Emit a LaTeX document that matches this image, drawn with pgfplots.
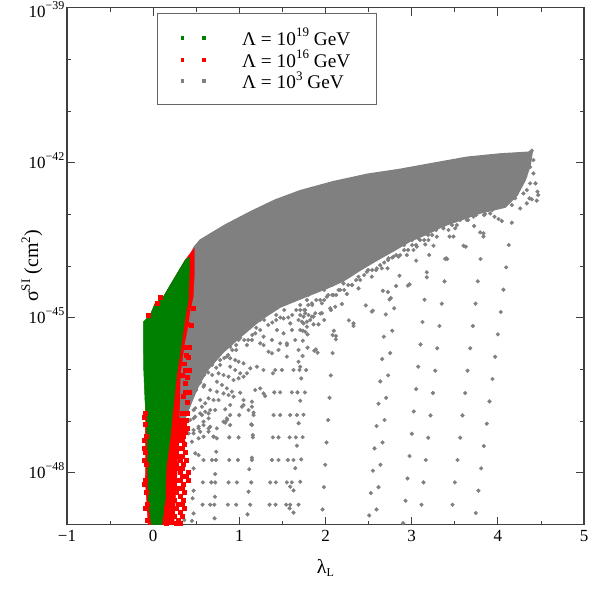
\documentclass[border=0pt]{standalone}
\usepackage{fontspec}
\setmainfont{Liberation Serif}
\usepackage{pgfplots}
\pgfplotsset{compat=1.18}
\definecolor{dgreen}{HTML}{008000}
\definecolor{dgray}{HTML}{808080}
\definecolor{dred}{HTML}{FF0000}
\newcommand{\exl}[1]{\raisebox{7.5pt}[0pt][0pt]{\fontsize{12}{12}\selectfont #1}}
\newcommand{\exb}[1]{\raisebox{8.5pt}[0pt][0pt]{\fontsize{13}{13}\selectfont #1}}
\newcommand{\legtxt}[1]{\makebox[134pt][l]{\rule[-4.9pt]{0pt}{22.6pt}\fontsize{19.3}{19}\selectfont #1}}
\begin{document}
\begin{tikzpicture}
\path[use as bounding box] (0,0) rectangle (592pt,592pt);
\begin{axis}[
  at={(67pt,67.5pt)}, anchor=south west,
  scale only axis, width=517pt, height=517pt,
  xmin=-1, xmax=5, ymode=log, ymin=1e-49, ymax=1e-39,
  xtick={-1,0,1,2,3,4,5},
  xticklabels={−1,0,1,2,3,4,5},
  minor xtick={-0.5,0.5,1.5,2.5,3.5,4.5},
  ytick={1e-48,1e-45,1e-42,1e-39},
  yticklabels={10\exl{−48},10\exl{−45},10\exl{−42},\raisebox{-4pt}[11.6pt][0pt]{10\exl{−39}}},
  minor ytick={1e-47,1e-46,1e-44,1e-43,1e-41,1e-40},
  tick align=inside, tick pos=both,
  major tick length=8pt, minor tick length=4pt,
  tick style={line width=0.8pt,color=black!75},
  axis line style={line width=1.1pt,color=black!75},
  tick label style={font=\fontsize{17}{17}\selectfont},
  xticklabel style={yshift=-2pt},
  yticklabel style={xshift=1pt},
  every axis x label/.style={at={(axis description cs:0.5,-0.084)},anchor=center},
  every axis y label/.style={at={(axis description cs:-0.068,0.5)},anchor=center,rotate=90},
  label style={font=\fontsize{20}{20}\selectfont},
  xlabel={λ\raisebox{-3pt}{\fontsize{12}{12}\selectfont L}},
  ylabel={σ\raisebox{8pt}{\fontsize{13}{13}\selectfont SI} (cm\raisebox{8pt}{\fontsize{13}{13}\selectfont 2})},
  legend cell align=left,
  legend style={at={(axis description cs:0.175,0.989)},anchor=north west,
    draw=black!60,line width=0.8pt,fill=white,inner xsep=0pt,inner ysep=14pt,
    nodes={inner sep=0pt},row sep=2.6pt,
    /tikz/every even column/.append style={column sep=0pt}},
]
\addlegendimage{legend image code/.code={
  \fill[dgreen] (23pt,-2pt) rectangle (25pt,1pt);
  \fill[dgreen] (44pt,-2pt) rectangle (47.5pt,1pt);
  \path (0pt,0pt) (83.5pt,0pt);}}
\addlegendentry{\legtxt{Λ = 10\exb{19} GeV}}
\addlegendimage{legend image code/.code={
  \fill[dred] (23pt,-2pt) rectangle (25pt,1pt);
  \fill[dred] (44pt,-2pt) rectangle (47.5pt,1pt);
  \path (0pt,0pt) (83.5pt,0pt);}}
\addlegendentry{\legtxt{Λ = 10\exb{16} GeV}}
\addlegendimage{legend image code/.code={
  \fill[dgray] (23pt,-2pt) rectangle (25pt,1pt);
  \fill[dgray] (44pt,-2pt) rectangle (47.5pt,1pt);
  \path (0pt,0pt) (83.5pt,0pt);}}
\addlegendentry{\legtxt{Λ = 10\exb{3} GeV}}

% Lambda = 10^3: dense part as outline
\addplot[forget plot,fill=dgray,draw=dgray,line width=1.5pt,line join=round] coordinates {
 (0.198,2.5e-45) (0.477,2.33e-44) (0.546,3.18e-44) (0.836,6.21e-44) (1.126,1.11e-43)
 (1.416,1.89e-43) (1.706,2.86e-43) (2.089,4.27e-43) (2.484,5.94e-43) (2.867,7.41e-43)
 (3.249,9.68e-43) (3.644,1.27e-42) (4.027,1.47e-42) (4.398,1.60e-42)
 (4.375,9.0e-43) (4.317,4.61e-43) (4.224,2.36e-43) (4.085,1.38e-43) (3.795,1.06e-43) (3.598,8.11e-44)
 (3.366,5.94e-44) (3.180,4.16e-44) (2.983,3.05e-44) (2.785,1.95e-44) (2.600,1.31e-44)
 (2.403,8.37e-45) (2.205,5.13e-45) (2.020,3.75e-45) (1.788,2.63e-45) (1.474,1.61e-45)
 (1.243,9.03e-46) (1.010,4.24e-46) (0.813,2.17e-46) (0.628,9.72e-47) (0.512,4.38e-47)
 (0.430,2.05e-47) (0.361,1.05e-47) (0.198,1.05e-47)} -- cycle;
% Lambda = 10^3: points
\addplot[forget plot,color=dgray,only marks,mark=*,mark size=1.9pt] coordinates {
 (4.162,6.90e-44)(4.127,2.55e-44)(4.096,9.44e-45)(4.065,3.49e-45)(4.034,1.29e-45)(4.000,4.76e-46)(3.969,1.76e-46)
 (3.938,6.52e-47)(3.903,2.41e-47)(3.872,8.91e-48)(3.837,3.30e-48)(3.806,1.22e-48)(3.775,4.52e-49)(3.744,1.67e-49)
 (3.833,3.71e-44)(3.799,1.37e-44)(3.768,5.06e-45)(3.741,1.87e-45)(3.710,6.92e-46)(3.679,2.56e-46)(3.648,9.46e-47)
 (3.621,3.50e-47)(3.590,1.29e-47)(3.563,4.78e-48)(3.532,1.77e-48)(3.501,6.53e-49)(3.474,2.41e-49)
 (3.485,3.71e-44)(3.440,3.71e-44)(3.412,1.37e-44)(3.381,5.06e-45)(3.350,1.87e-45)(3.323,6.92e-46)(3.296,2.56e-46)
 (3.273,9.46e-47)(3.246,3.50e-47)(3.219,1.29e-47)(3.192,4.78e-48)(3.164,1.77e-48)(3.137,6.53e-49)(3.114,2.41e-49)
 (3.203,1.64e-44)(3.176,6.05e-45)(3.149,2.23e-45)(3.126,8.26e-46)(3.103,3.05e-46)(3.075,1.13e-46)(3.052,4.17e-47)
 (3.025,1.54e-47)(3.002,5.70e-48)(2.975,2.11e-48)(2.952,7.79e-49)(2.929,2.88e-49)(2.901,1.06e-49)
 (2.820,4.11e-45)(2.797,1.52e-45)(2.774,5.61e-46)(2.751,2.07e-46)(2.727,7.66e-47)(2.704,2.83e-47)(2.685,1.05e-47)
 (2.662,3.87e-48)(2.638,1.43e-48)(2.615,5.29e-49)(2.592,1.96e-49)
 (2.724,3.14e-45)(2.700,1.16e-45)(2.677,4.30e-46)(2.658,1.59e-46)(2.635,5.87e-47)(2.615,2.17e-47)(2.592,8.03e-48)
 (2.569,2.97e-48)(2.550,1.10e-48)(2.526,4.06e-49)(2.507,1.50e-49)
 (2.097,5.61e-46)(2.082,2.07e-46)(2.062,7.66e-47)(2.047,2.83e-47)(2.031,1.05e-47)(2.012,3.87e-48)(1.997,1.43e-48)
 (1.981,5.29e-49)(1.966,1.96e-49)
 (1.792,2.63e-46)(1.776,9.72e-47)(1.761,3.59e-47)(1.745,1.33e-47)(1.734,4.91e-48)(1.718,1.82e-48)(1.707,6.71e-49)(1.687,2.42e-49)
 (1.734,1.82e-46)(1.718,6.71e-47)(1.707,2.48e-47)(1.688,9.1e-48)(1.668,3.35e-48)(1.649,1.23e-48)(1.629,4.57e-49)(1.629,1.70e-49)
 (0.894,1.31e-47)(0.999,1.31e-47)(1.165,1.31e-47)(1.397,1.31e-47)(1.474,1.31e-47)(1.590,1.31e-47)(1.668,1.31e-47)
 (0.883,4.85e-48)(0.991,4.85e-48)(1.157,4.85e-48)(1.389,4.85e-48)(1.455,4.85e-48)(1.583,4.85e-48)(1.656,4.85e-48)
 (0.585,1.77e-48)(0.682,1.77e-48)(0.728,1.77e-48)(0.883,1.77e-48)(0.983,1.77e-48)(1.146,1.77e-48)(1.378,1.77e-48)(1.455,1.77e-48)(1.563,1.77e-48)(1.629,1.77e-48)
 (0.577,6.53e-49)(0.674,6.53e-49)(0.720,6.53e-49)(0.875,6.53e-49)(0.972,6.53e-49)(1.138,6.53e-49)(1.358,6.53e-49)(1.424,6.53e-49)(1.552,6.53e-49)(1.610,6.53e-49)
 (0.573,2.42e-49)(0.662,2.42e-49)(0.709,2.42e-49)(0.867,2.42e-49)(0.964,2.42e-49)(1.126,2.42e-49)(1.351,2.42e-49)(1.420,2.42e-49)(1.544,2.42e-49)(1.590,2.42e-49)
 (1.590,5.39e-49)(1.583,2.06e-49)
 (0.469,1.22e-48)(0.720,9.48e-49)(1.115,1.17e-48)(0.469,4.51e-49)(0.457,3.21e-49)(0.717,3.45e-49)(1.107,4.32e-49)
 (0.469,1.64e-49)(0.361,1.22e-49)(0.450,1.18e-49)(0.713,1.32e-49)(1.095,1.57e-49)(0.732,2.56e-48)(1.146,1.96e-48)
 (1.138,8.65e-48)(1.157,5.38e-48)(1.165,1.46e-47)
 (0.450,4.00e-48)(0.372,3.72e-48)(0.488,2.38e-48)(0.527,2.21e-48)(0.411,5.79e-48)(0.469,6.73e-48)(0.527,7.24e-48)
 (0.585,8.39e-48)(0.643,6.24e-48)(0.662,7.80e-48)(0.527,4.65e-48)(0.430,1.05e-47)(0.488,1.22e-47)(0.566,1.31e-47)
 (0.643,1.41e-47)(0.720,1.64e-47)(0.836,1.69e-47)(0.894,2.05e-47)(0.817,9.75e-48)(0.894,8.39e-48)(0.856,1.05e-47)
 (0.392,2.05e-47)(0.469,1.64e-47)(0.566,1.90e-47)(0.739,4.65e-48)(0.701,5.00e-48)(0.585,5.00e-48)(1.049,2.05e-47)(1.146,1.90e-47)
 (1.242,3.20e-46)(1.339,2.20e-46)(1.378,2.05e-46)(1.455,2.38e-46)(1.552,2.96e-46)(1.687,2.38e-46)(1.687,1.41e-46)
 (1.707,1.13e-46)(1.552,1.77e-46)(1.494,9.75e-47)(1.417,9.75e-47)(1.390,8.40e-47)(1.281,9.75e-47)(1.204,1.13e-46)
 (1.127,1.05e-46)(1.049,1.31e-46)(0.991,1.41e-46)(0.952,1.52e-46)(0.894,1.64e-46)(0.856,1.77e-46)(0.894,1.13e-46)
 (0.952,9.75e-47)(1.010,8.40e-47)(1.088,8.40e-47)(1.049,7.24e-47)(0.991,6.73e-47)(0.933,6.24e-47)(0.875,7.24e-47)
 (0.817,7.80e-47)(0.759,8.40e-47)(0.740,5.79e-47)(0.798,5.00e-47)(0.856,4.30e-47)(0.914,3.72e-47)(1.010,3.55e-47)
 (0.933,2.97e-47)(0.875,3.20e-47)(0.817,3.44e-47)(0.740,3.72e-47)(0.662,4.00e-47)(0.585,4.63e-47)(0.546,2.56e-47)
 (0.604,2.21e-47)(0.643,2.76e-47)(0.701,2.56e-47)(0.759,2.56e-47)(1.049,2.56e-47)(1.146,2.38e-47)(1.185,4.00e-47)
 (1.242,4.30e-47)(1.281,3.44e-47)(1.300,3.05e-47)(1.107,1.64e-47)(1.030,1.90e-47)(0.856,1.13e-47)(0.837,9.33e-48)
 (0.662,1.64e-47)(0.604,1.52e-47)(0.546,1.41e-47)(0.488,1.77e-47)(0.469,1.13e-47)(0.643,1.13e-47)(0.585,9.75e-48)
 (0.527,7.81e-48)(0.469,5.81e-48)(0.546,6.25e-48)(0.643,7.24e-48)(0.740,7.24e-48)(0.701,5.00e-48)(1.146,8.41e-48)
 (1.405,3.6e-47)(1.474,3.6e-47)(1.610,3.6e-47)(1.675,3.6e-47)(1.629,9.75e-47)(1.699,9.75e-47)
 (2.271,8.89e-46)(2.325,7.78e-46)(2.325,6.92e-46)(2.082,4.62e-46)(2.120,4.43e-46)(2.120,3.82e-46)(1.888,2.44e-46)
 (1.908,2.11e-46)(1.869,2.30e-46)(1.737,3.60e-46)(1.737,5.61e-46)(1.765,5.37e-46)(1.792,4.76e-46)(1.861,7.45e-46)
 (1.919,7.45e-46)(1.985,9.03e-46)(1.958,1.22e-45)(2.062,1.41e-45)(1.823,9.03e-46)(1.745,7.78e-46)(2.538,1.31e-45)
 (1.784,8.38e-46)(1.842,1.05e-45)(1.881,1.22e-45)(1.726,8.38e-46)(1.803,1.13e-45)(1.745,1.05e-45)
 (1.707,1.13e-45)(1.765,1.41e-45)(1.861,1.05e-45)(1.939,1.21e-45)(1.842,1.90e-45)(1.784,2.20e-45)(1.958,1.90e-45)
 (2.055,1.52e-45)(2.113,1.63e-45)(2.190,1.84e-45)(2.016,2.55e-45)(2.093,2.75e-45)(2.151,3.44e-45)(2.248,2.88e-45)
 (2.306,4.30e-45)(2.383,3.70e-45)(2.209,4.62e-45)(2.383,6.22e-45)(2.480,7.76e-45)(2.538,6.22e-45)(2.596,9.02e-45)
 (2.654,9.02e-45)(2.720,9.02e-45)(2.731,1.41e-44)(2.789,1.51e-44)(2.847,1.51e-44)(2.944,1.63e-44)(3.021,2.04e-44)
 (3.060,2.37e-44)(3.157,2.62e-44)(3.253,2.47e-44)(3.079,3.43e-44)(3.195,3.18e-44)(3.292,3.69e-44)(3.369,5.36e-44)
 (3.427,4.97e-44)(3.505,5.36e-44)(3.524,6.21e-44)(3.427,7.19e-44)(3.640,7.76e-44)(3.717,8.99e-44)(3.853,1.01e-43)
 (3.911,1.04e-43)(3.961,8.99e-44)(4.008,8.1e-44)(4.046,7.4e-44)(4.259,1.30e-43)(4.162,1.51e-43)(4.336,1.63e-43)
 (4.367,2.04e-43)(4.394,1.95e-43)(4.452,1.84e-43)(4.468,2.36e-43)(4.460,2.74e-43)(4.437,3.97e-43)(4.336,2.95e-43)
 (4.413,6.19e-43)(4.413,1.12e-42)(4.375,3.97e-43)(4.297,2.54e-43)(4.201,2.04e-43)(4.220,3.97e-43)(4.317,5.35e-43)
 (4.259,7.19e-43)(4.367,1.55e-42)(4.394,1.70e-42)(4.336,9.3e-43)(4.375,8.2e-43)(4.104,1.84e-43)(4.046,1.63e-43)(3.930,1.30e-43)
 (2.468,1.73e-45)(2.550,1.37e-45)(2.956,4.17e-45)(2.975,4.42e-45)(3.176,7.55e-45)(3.389,1.37e-44)(3.400,1.41e-44)
 (3.601,2.47e-44)(3.628,2.37e-44)(3.795,4.48e-44)(3.833,4.29e-44)(3.725,5.94e-44)(3.052,1.27e-44)(2.859,6.50e-45)
 (2.666,3.33e-45)(2.743,2.26e-45)(2.758,2.4e-45)
 (1.513,9.72e-46)(1.591,7.78e-46)(1.687,9.03e-46)(1.765,1.22e-45)(1.436,5.78e-46)(1.513,4.99e-46)(1.610,5.78e-46)
 (1.707,5.78e-46)(1.784,6.71e-46)(1.552,3.19e-46)(1.649,3.71e-46)(1.474,3.19e-46)(1.378,3.71e-46)(1.281,4.30e-46)
 (1.185,4.99e-46)(1.146,3.71e-46)(1.281,2.96e-46)(1.088,2.96e-46)(0.991,3.71e-46)(0.894,2.75e-46)(0.817,2.96e-46)
 % frayed band along the lower edge of the dense part
 (0.500,6.24e-47)(0.500,4.00e-47)(0.593,1.22e-46)(0.593,7.80e-47)(0.593,4.99e-47)(0.686,1.90e-46)(0.686,1.22e-46)(0.686,7.80e-47)
 (0.778,2.37e-46)(0.778,1.52e-46)(0.778,1.22e-46)(0.871,2.96e-46)(0.871,1.90e-46)(0.964,4.63e-46)(0.964,2.96e-46)(0.964,2.37e-46)
 (1.057,5.78e-46)(1.057,3.71e-46)(1.150,7.23e-46)(1.150,4.63e-46)(1.243,1.13e-45)(1.243,9.03e-46)(1.243,5.78e-46)
 (1.335,1.41e-45)(1.335,7.23e-46)(1.428,1.76e-45)(1.428,1.13e-45)(1.428,9.03e-46)(1.521,2.20e-45)(1.521,1.41e-45)
 (1.614,2.20e-45)(1.614,1.13e-45)(1.707,2.75e-45)(1.707,1.76e-45)(1.707,1.41e-45)(1.800,2.75e-45)(1.800,1.76e-45)
 (1.893,3.44e-45)(1.893,2.20e-45)(1.985,3.44e-45)(1.985,2.20e-45)(2.078,4.29e-45)(2.078,2.75e-45)(2.171,5.36e-45)(2.171,3.44e-45)
 (2.264,6.70e-45)(2.264,4.29e-45)(2.356,8.37e-45)(2.356,5.36e-45)(2.449,1.04e-44)(2.449,6.70e-45)(2.542,1.31e-44)(2.542,8.37e-45)
 (2.635,1.63e-44)(2.635,1.04e-44)(2.727,2.04e-44)(2.727,1.31e-44)(2.820,2.55e-44)(2.820,1.63e-44)(2.913,2.55e-44)(2.913,2.04e-44)
 (3.006,3.18e-44)(3.006,2.55e-44)(3.098,3.98e-44)(3.098,3.18e-44)(3.191,4.97e-44)(3.191,3.98e-44)(3.284,4.97e-44)(3.377,6.21e-44)
 (3.469,6.21e-44)(3.562,7.76e-44)(3.655,7.76e-44)(3.748,9.68e-44)(3.840,9.68e-44)(3.933,1.21e-43)
 (0.546,7.80e-47)(0.546,5.6e-47)(0.639,1.66e-46)(0.639,8.7e-47)(0.732,2.13e-46)(0.732,1.08e-46)(0.825,2.96e-46)(0.825,1.66e-46)
 (0.918,3.71e-46)(0.918,2.37e-46)(1.010,6.4e-46)(1.010,4.1e-46)(1.103,7.23e-46)(1.103,3.71e-46)(1.196,1.13e-45)(1.196,6.4e-46)
 (1.289,1.56e-45)(1.289,9.03e-46)(1.382,1.41e-45)(1.382,8.1e-46)(1.475,2.20e-45)(1.475,1.01e-45)(1.568,2.20e-45)(1.568,1.01e-45)
 (1.660,2.47e-45)(1.660,1.41e-45)(1.753,2.75e-45)(1.753,1.41e-45)(1.846,3.44e-45)(1.846,1.76e-45)(1.939,3.84e-45)(1.939,2.20e-45)
 (2.032,4.29e-45)(2.032,2.75e-45)(2.124,5.36e-45)(2.124,2.75e-45)(2.217,6.70e-45)(2.217,3.44e-45)(2.310,8.37e-45)(2.310,4.29e-45)
 (2.403,1.04e-44)(2.403,5.36e-45)(2.495,1.31e-44)(2.495,8.37e-45)(2.588,1.63e-44)(2.588,8.37e-45)(2.681,2.04e-44)(2.681,1.17e-44)
 (2.774,2.55e-44)(2.774,1.46e-44)(2.866,3.18e-44)(2.866,1.63e-44)(2.959,3.98e-44)(2.959,2.04e-44)(3.052,4.97e-44)(3.052,2.55e-44)
 (3.145,4.97e-44)(3.145,3.18e-44)(3.237,6.21e-44)(3.237,3.98e-44)(3.330,6.21e-44)(3.423,8.7e-44)(3.516,9.68e-44)(3.608,1.08e-43)
 (3.701,1.21e-43)(3.794,1.35e-43)(3.887,1.51e-43)
};
% Lambda = 10^16: dense part
\addplot[forget plot,fill=dred,draw=dred,line width=0.3pt,line join=round] coordinates {
 (-0.100,8.26e-46) (-0.034,1.13e-45) (0.024,1.92e-45) (0.117,2.51e-45) (0.233,5.36e-45) (0.372,1.31e-44)
 (0.477,2.23e-44) (0.477,6.70e-45) (0.465,2.51e-45) (0.430,1.41e-45) (0.396,5.78e-46) (0.361,2.96e-46)
 (0.338,1.52e-46) (0.314,7.80e-47) (0.310,2.56e-47) (0.300,8.79e-48) (0.280,1.13e-48) (0.240,1e-49)
 (-0.060,1e-49) (-0.092,7.26e-49) (-0.090,1.05e-47) (-0.090,2.56e-47) (-0.100,1.11e-46)} -- cycle;
% Lambda = 10^16: points
\addplot[forget plot,color=dred,only marks,mark=square*,mark size=1.8pt] coordinates {
 (0.465,1.54e-45)(0.442,7.23e-46)(0.396,7.4e-46)(0.419,2.71e-46)(0.372,2.71e-46)(0.407,1.74e-46)(0.419,9.72e-47)
 (0.372,9.72e-47)(0.372,5.46e-47)(0.419,3.66e-47)(0.372,3.66e-47)(0.396,2.34e-47)(0.338,1.44e-47)(0.396,1.44e-47)
 (0.361,1.3e-46)(0.338,7.8e-47)(0.396,7.0e-47)(0.350,3e-47)(0.384,1.9e-46)
 (-0.057,1.13e-45)(0.048,1.92e-45)(0.082,2.47e-45)
 (0.291,1.05e-47)(0.338,1.05e-47)(0.384,1.05e-47)(0.314,1.05e-47)(0.314,8.79e-48)(0.361,8.79e-48)
 (0.291,7.36e-48)(0.338,7.36e-48)(0.396,7.36e-48)(0.314,6.15e-48)(0.372,6.15e-48)
 (0.268,5.15e-48)(0.314,5.15e-48)(0.350,5.15e-48)(0.291,4.31e-48)(0.338,4.31e-48)
 (0.268,3.60e-48)(0.361,3.60e-48)(0.245,3.02e-48)(0.314,3.02e-48)(0.338,3.02e-48)
 (0.268,2.52e-48)(0.372,2.52e-48)(0.291,2.11e-48)(0.338,2.11e-48)
 (0.245,1.77e-48)(0.314,1.77e-48)(0.384,1.77e-48)(0.268,1.48e-48)(0.350,1.48e-48)
 (0.222,1.24e-48)(0.291,1.24e-48)(0.338,1.24e-48)(0.245,1.04e-48)(0.314,1.04e-48)(0.407,1.04e-48)
 (0.222,8.67e-49)(0.338,8.67e-49)(0.384,8.67e-49)(0.268,7.26e-49)(0.314,7.26e-49)(0.407,7.26e-49)
 (0.198,6.07e-49)(0.245,6.07e-49)(0.350,6.07e-49)(0.291,5.08e-49)(0.338,5.08e-49)
 (0.198,4.26e-49)(0.268,4.26e-49)(0.361,4.26e-49)(0.222,3.56e-49)(0.314,3.56e-49)
 (0.175,2.98e-49)(0.245,2.98e-49)(0.350,2.98e-49)(0.198,2.49e-49)(0.291,2.49e-49)(0.338,2.49e-49)
 (0.152,2.08e-49)(0.268,2.08e-49)(0.361,2.08e-49)(0.222,1.75e-49)(0.314,1.75e-49)
 (0.175,1.46e-49)(0.245,1.46e-49)(0.338,1.46e-49)(0.198,1.22e-49)(0.291,1.22e-49)
 (0.152,1.07e-49)(0.268,1.07e-49)(0.314,1.07e-49)
 (-0.092,1.44e-47)(-0.103,1.2e-47)(-0.080,5.15e-48)(-0.103,4.31e-48)(-0.103,1.77e-48)(-0.080,1.48e-48)
 (-0.092,7.26e-49)(-0.103,6.07e-49)(-0.068,2.49e-49)(-0.092,2.08e-49)(-0.068,1.22e-49)(-0.080,4.26e-49)
 (-0.103,3.02e-48)(-0.092,8.79e-48)(-0.092,2.52e-48)
};
% Lambda = 10^19
\addplot[forget plot,fill=dgreen,draw=dgreen,line width=0.5pt,line join=round] coordinates {
 (-0.115,8.26e-46) (-0.034,1.13e-45) (0.024,1.92e-45) (0.117,2.51e-45) (0.233,5.36e-45) (0.372,1.31e-44)
 (0.419,1.49e-44) (0.419,7.33e-45) (0.407,2.20e-45) (0.372,1.03e-45) (0.334,3.71e-46) (0.276,8.51e-47)
 (0.233,1.87e-47) (0.198,4.92e-48) (0.152,1.29e-48) (0.140,2.98e-49) (0.102,1e-49) (-0.022,1e-49)
 (-0.057,2.98e-49) (-0.068,2.76e-48) (-0.080,1.20e-47) (-0.095,2.56e-47) (-0.111,1.11e-46)} -- cycle;
\end{axis}
\end{tikzpicture}
\end{document}
